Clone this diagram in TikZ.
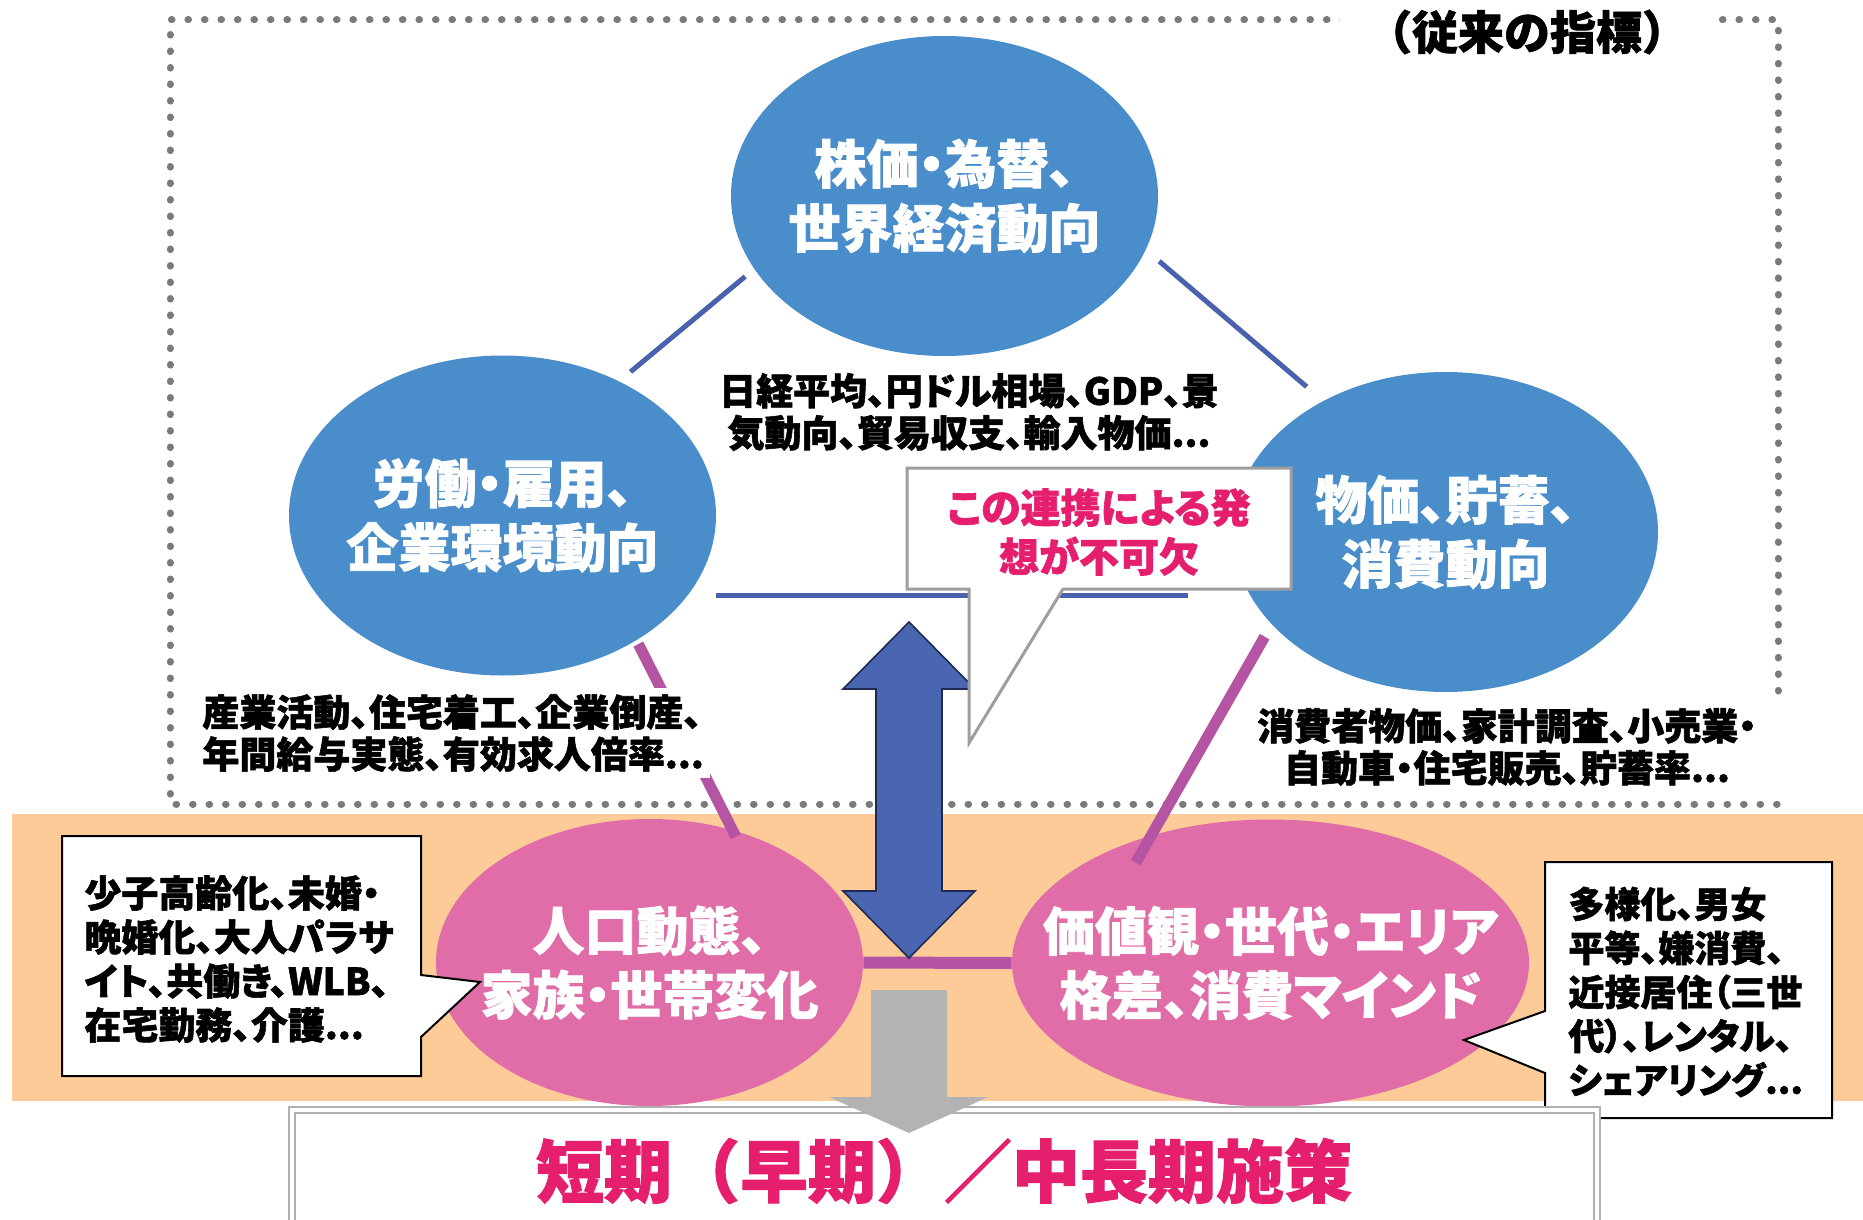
\documentclass[tikz,border=0pt]{standalone}
\usepackage{fontspec}
\setmainfont{Noto Sans CJK JP}[RawFeature=+palt, BoldFeatures={FakeBold=1.5}]
\newfontfamily\jpfull{Noto Sans CJK JP}[BoldFeatures={FakeBold=1.5}]
\usetikzlibrary{shapes.geometric}
\definecolor{ellblue}{HTML}{4A8DCB}
\definecolor{ellpink}{HTML}{E06CA8}
\definecolor{peach}{HTML}{FCCB98}
\definecolor{lineblue}{HTML}{4A62AD}
\definecolor{linepurple}{HTML}{B554A2}
\definecolor{arrowblue}{HTML}{4A66B0}
\definecolor{arrowedge}{HTML}{1E2A55}
\definecolor{arrowgray}{HTML}{B3B3B3}
\definecolor{keypink}{HTML}{E61E6E}
\definecolor{dotgray}{HTML}{7A7A7A}
\definecolor{boxgray}{HTML}{B0B0B0}
\begin{document}
\begin{tikzpicture}[x=0.5pt,y=-0.5pt,
  bigell/.style={ellipse, inner xsep=-40pt, inner ysep=-25pt, text=white, align=center,
    font=\bfseries\fontsize{26pt}{32pt}\selectfont},
  blueell/.style={bigell, fill=ellblue, minimum width=213.5pt, minimum height=160pt},
  pinkell/.style={bigell, fill=ellpink, minimum height=143.5pt},
  infotext/.style={fill=white, inner sep=3pt, font=\bfseries\fontsize{18.5pt}{21pt}\selectfont},
  notetext/.style={inner sep=0pt, align=left, anchor=west, font=\bfseries\fontsize{18.5pt}{22pt}\selectfont},
  link/.style={lineblue, line width=2.5pt},
  plink/.style={linepurple, line width=5.5pt},
  frame/.style={dotgray, line width=3.5pt, line cap=round, dash pattern=on 0.3pt off 7.95pt},
  calloutA/.style={boxgray!90!black, line width=1.5pt, fill=white, line join=miter},
  calloutB/.style={black, line width=1pt, fill=white}
]
\useasboundingbox (0,0) rectangle (1863,1220);
\clip (0,0) rectangle (1863,1220);
\fill[white] (0,0) rectangle (1863,1220);

% peach band
\fill[peach] (12,814) rectangle (1863,1101);

% dotted frame
\draw[frame] (1778,691) -- (1778,20) -- (170,20) -- (170,804) -- (1778,804);

% ellipses
\node[blueell] (econ) at (944.5,196) {株価・為替、\\世界経済動向};
\node[blueell] (labor) at (502.5,515.5) {労働・雇用、\\企業環境動向};
\node[blueell, minimum width=212.5pt] (price) at (1445.5,532) {物価、貯蓄、\\消費動向};
\node[pinkell, minimum width=213.5pt] (pop) at (649.5,962.5) {人口動態、\\家族・世帯変化};
\node[pinkell, minimum width=258.5pt] (value) at (1270.5,963) {価値観・世代・エリア\\格差、消費マインド};

% connectors
\draw[link, shorten <=5.8pt, shorten >=7.3pt] (econ.201.25) -- (labor.49.4);
\draw[link, shorten <=8.7pt, shorten >=10.8pt] (econ.345.8) -- (price.133.8);
\draw[link] ([yshift=-39.75pt]labor.east) -- ([xshift=-22.5pt,yshift=-31.5pt]price.west);
\draw[plink, shorten <=2pt, shorten >=-3.8pt] (labor.317.65) -- (pop.58.2);
\draw[plink, shorten <=7pt, shorten >=-15.7pt] (price.208.2) -- (value.133.9);
\draw[plink, line width=6pt] (pop.east) -- (value.west);

% indicator texts
\node[infotext, align=center] (econidx) at (969,412) {日経平均、円ドル相場、GDP、景\\気動向、貿易収支、輸入物価...};
\node[infotext, align=left, anchor=west] (laboridx) at (196,733) {産業活動、住宅着工、企業倒産、\\年間給与実態、有効求人倍率...};
\node[infotext, align=center] (priceidx) at (1507,747) {消費者物価、家計調査、小売業・\\自動車・住宅販売、貯蓄率...};
\node[fill=white, inner xsep=13pt, inner ysep=2pt, font=\jpfull\bfseries\fontsize{23pt}{26pt}\selectfont] (frametitle) at (1527,32) {（従来の指標）};

% blue double arrow
\draw[fill=arrowblue, draw=arrowedge, line width=0.8pt, line join=miter]
  (909,622) -- (975,689) -- (942,689) -- (942,891) -- (975,891) -- (909,958)
  -- (843,891) -- (876,891) -- (876,689) -- (843,689) -- cycle;

% central callout
\draw[calloutA] (907,468) -- (1291,468) -- (1291,589) -- (1063,589) -- (969,743) -- (969,589) -- (907,589) -- cycle;
\node[inner sep=0pt, text=keypink, align=center, font=\bfseries\fontsize{20pt}{24.5pt}\selectfont] (keynote) at (1099,532) {この連携による発\\想が不可欠};

% side callouts
\draw[calloutB] (62,836) -- (421,836) -- (421,975) -- (480,982) -- (421,1037) -- (421,1076) -- (62,1076) -- cycle;
\node[notetext] (popnote) at (84,959) {少子高齢化、未婚・\\晩婚化、大人パラサ\\イト、共働き、WLB、\\在宅勤務、介護...};
\draw[calloutB] (1545,862) -- (1832,862) -- (1832,1118) -- (1545,1118) -- (1545,1073) -- (1464,1040) -- (1545,1011) -- cycle;
\node[notetext, font=\bfseries\fontsize{18pt}{22pt}\selectfont] (valuenote) at (1568,992) {多様化、男女\\平等、嫌消費、\\近接居住（三世\\代）、レンタル、\\シェアリング...};

% bottom box
\draw[boxgray, line width=1.2pt, fill=white] (289,1107) rectangle (1600,1250);
\draw[boxgray, line width=1.2pt] (295,1113) rectangle (1594,1250);
\node[inner sep=0pt, text=keypink, font=\jpfull\bfseries\fontsize{34pt}{40pt}\selectfont] (policy) at (944,1171) {短期（早期）／中長期施策};

% gray arrow
\fill[arrowgray] (871,990) -- (947,990) -- (947,1097) -- (988,1097) -- (909,1133) -- (829,1097) -- (871,1097) -- cycle;
\end{tikzpicture}
\end{document}
